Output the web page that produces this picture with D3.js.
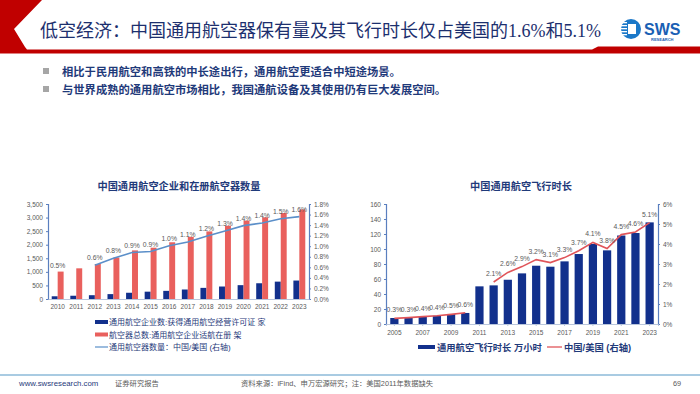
<!DOCTYPE html>
<html>
<head>
<meta charset="utf-8">
<script src="https://cdn.jsdelivr.net/npm/d3@7"></script>
<style>
  body { margin: 0; background: #fff; }
  svg { display: block; }
  text { font-family: "Liberation Sans", "Noto Sans CJK SC", sans-serif; }
</style>
</head>
<body>
<div id="container"></div>
<script>
// left chart data
const years1 = ['2010','2011','2012','2013','2014','2015','2016','2017','2018','2019','2020','2021','2022','2023']
const companies = [100, 120, 140, 180, 230, 270, 300, 350, 410, 460, 510, 580, 640, 680]
const aircraft = [1010, 1130, 1290, 1530, 1790, 1890, 2090, 2290, 2490, 2700, 2890, 3010, 3170, 3300]
const aircraftRatio = [0.5, null, 0.64, 0.77, 0.88, 0.9, 1.01, 1.08, 1.19, 1.29, 1.39, 1.44, 1.52, 1.56]
const leftTicks = [0, 500, 1000, 1500, 2000, 2500, 3000, 3500]
const leftPctTicks = [0, 0.2, 0.4, 0.6, 0.8, 1.0, 1.2, 1.4, 1.6, 1.8]

// right chart data
const years2 = ['2005','2006','2007','2008','2009','2010','2011','2012','2013','2014','2015','2016','2017','2018','2019','2020','2021','2022','2023']
const flightHours = [8, 8.5, 9.7, 11, 13.3, 14.7, 50.2, 51.5, 59, 67.5, 77.7, 76.4, 83.5, 93.3, 106.7, 98.2, 118, 121.3, 135.5]
const hoursRatio = [0.28, 0.32, 0.37, 0.41, 0.48, 0.56, null, 2.1, 2.58, 2.87, 3.22, 3.07, 3.32, 3.66, 4.08, 3.77, 4.47, 4.6, 5.07]
const rightTicks = [0, 20, 40, 60, 80, 100, 120, 140, 160]
const rightPctTicks = [0, 1, 2, 3, 4, 5, 6]

const bullets = [
  '相比于民用航空和高铁的中长途出行，通用航空更适合中短途场景。',
  '与世界成熟的通用航空市场相比，我国通航设备及其使用仍有巨大发展空间。'
]

const w = 700
const h = 394
const navy = '#12308c'
const red = '#e9605d'
const gray = '#595959'

const svg = d3.select('#container')
  .append('svg')
  .attr('width', w)
  .attr('height', h)

// ---------- header ----------
svg.append('path')
  .attr('d', 'M0,0 L42,0 L14,29 L25,47 L0,47 Z')
  .attr('fill', '#c00000')
svg.append('path')
  .attr('d', 'M0,47 L25,47 L27,49.5 L592,49.5 L598,46.5 L700,46.5 L700,53.5 L0,53.5 Z')
  .attr('fill', '#c00000')

svg.append('text')
  .attr('x', 40)
  .attr('y', 37)
  .attr('font-size', 18)
  .attr('fill', '#1c2f6e')
  .style('font-family', '"Liberation Serif", "Noto Sans CJK SC", serif')
  .text('低空经济：中国通用航空器保有量及其飞行时长仅占美国的1.6%和5.1%')

// logo
const logo = svg.append('g').attr('transform', 'translate(631,29)')
logo.append('circle').attr('r', 10).attr('fill', '#1b78c8')
logo.append('rect').attr('x', -3).attr('y', -5).attr('width', 8).attr('height', 10).attr('fill', '#fff')
;[-7, -4, -1, 2, 5].forEach(dy => {
  logo.append('rect').attr('x', -11).attr('y', dy).attr('width', 7).attr('height', 1.3).attr('fill', '#fff')
})
svg.append('text')
  .attr('x', 644).attr('y', 35)
  .attr('font-size', 16).attr('font-weight', 'bold')
  .attr('fill', '#1a5fb4')
  .text('SWS')
svg.append('text')
  .attr('x', 651).attr('y', 41)
  .attr('font-size', 4).attr('font-weight', 'bold')
  .attr('fill', '#1a5fb4')
  .text('RESEARCH')

// bullets
bullets.forEach((b, i) => {
  svg.append('rect')
    .attr('x', 43).attr('y', 68 + i * 18)
    .attr('width', 6).attr('height', 6)
    .attr('fill', '#a6a6a6')
  svg.append('text')
    .attr('x', 62).attr('y', 75.5 + i * 18)
    .attr('font-size', 11.3).attr('font-weight', 'bold')
    .attr('fill', '#1f3a7a')
    .text(b)
})

// ---------- left chart ----------
const x1 = d3.scaleBand().domain(years1).range([48, 309]).paddingInner(0.36).paddingOuter(0.2)
const sub1 = d3.scaleBand().domain(['c', 'a']).range([0, x1.bandwidth()])
const y1 = d3.scaleLinear().domain([0, 3500]).range([299, 204])
const y1r = d3.scaleLinear().domain([0, 1.8]).range([299, 204])

const left = svg.append('g')

left.append('text')
  .attr('x', 179).attr('y', 190)
  .attr('text-anchor', 'middle')
  .attr('font-size', 10.2).attr('font-weight', 'bold')
  .attr('fill', '#1f3a7a')
  .text('中国通用航空企业和在册航空器数量')

left.selectAll('.bar-c')
  .data(years1)
  .enter()
  .append('rect')
  .attr('x', d => x1(d) + sub1('c'))
  .attr('y', (d, i) => y1(companies[i]))
  .attr('width', sub1.bandwidth())
  .attr('height', (d, i) => y1(0) - y1(companies[i]))
  .attr('fill', navy)

left.selectAll('.bar-a')
  .data(years1)
  .enter()
  .append('rect')
  .attr('x', d => x1(d) + sub1('a'))
  .attr('y', (d, i) => y1(aircraft[i]))
  .attr('width', sub1.bandwidth())
  .attr('height', (d, i) => y1(0) - y1(aircraft[i]))
  .attr('fill', red)

const line1 = d3.line()
  .defined(d => d.v !== null)
  .x(d => x1(d.year) + x1.bandwidth() / 2)
  .y(d => y1r(d.v))

left.append('path')
  .datum(years1.map((y, i) => ({ year: y, v: aircraftRatio[i] })))
  .attr('d', line1)
  .attr('fill', 'none')
  .attr('stroke', '#5b8fc9')
  .attr('stroke-width', 1.6)

left.selectAll('.lbl')
  .data(years1.map((y, i) => ({ year: y, v: aircraftRatio[i] })).filter(d => d.v !== null))
  .enter()
  .append('text')
  .attr('x', d => x1(d.year) + x1.bandwidth() / 2)
  .attr('y', d => y1r(d.v) - 5)
  .attr('text-anchor', 'middle')
  .attr('font-size', 6.8)
  .attr('fill', gray)
  .text(d => d.v.toFixed(1) + '%')

const ax1 = left.append('g')
  .attr('transform', 'translate(48,0)')
  .call(d3.axisLeft(y1).tickValues(leftTicks).tickSize(2).tickFormat(d3.format(',')))
const ax1r = left.append('g')
  .attr('transform', 'translate(309,0)')
  .call(d3.axisRight(y1r).tickValues(leftPctTicks).tickSize(2).tickFormat(d => d.toFixed(1) + '%'))
const ax1b = left.append('g')
  .attr('transform', 'translate(0,299)')
  .call(d3.axisBottom(x1).tickSize(0).tickPadding(5))

// legend left
const leg1 = [
  { type: 'bar', color: navy, label: '通用航空企业数:获得通用航空经营许可证 家' },
  { type: 'bar', color: red, label: '航空器总数:通用航空企业适航在册 架' },
  { type: 'line', color: '#5b8fc9', label: '通用航空器数量：中国/美国 (右轴)' }
]
leg1.forEach((d, i) => {
  const yy = 322 + i * 12.5
  if (d.type === 'bar') {
    left.append('rect').attr('x', 95).attr('y', yy - 2).attr('width', 13).attr('height', 4).attr('fill', d.color)
  } else {
    left.append('line').attr('x1', 95).attr('x2', 108).attr('y1', yy).attr('y2', yy)
      .attr('stroke', d.color).attr('stroke-width', 1.2)
  }
  left.append('text')
    .attr('x', 109).attr('y', yy + 3)
    .attr('font-size', 8).attr('fill', '#1f3a7a')
    .text(d.label)
})

// ---------- right chart ----------
const x2 = d3.scaleBand().domain(years2).range([386, 658]).paddingInner(0.42).paddingOuter(0.3)
const y2 = d3.scaleLinear().domain([0, 160]).range([324, 204])
const y2r = d3.scaleLinear().domain([0, 6]).range([324, 204])

const right = svg.append('g')

right.append('text')
  .attr('x', 521).attr('y', 190)
  .attr('text-anchor', 'middle')
  .attr('font-size', 10.2).attr('font-weight', 'bold')
  .attr('fill', '#1f3a7a')
  .text('中国通用航空飞行时长')

right.selectAll('.bar-h')
  .data(years2)
  .enter()
  .append('rect')
  .attr('x', d => x2(d))
  .attr('y', (d, i) => y2(flightHours[i]))
  .attr('width', x2.bandwidth())
  .attr('height', (d, i) => y2(0) - y2(flightHours[i]))
  .attr('fill', navy)

const line2 = d3.line()
  .defined(d => d.v !== null)
  .x(d => x2(d.year) + x2.bandwidth() / 2)
  .y(d => y2r(d.v))

right.append('path')
  .datum(years2.map((y, i) => ({ year: y, v: hoursRatio[i] })))
  .attr('d', line2)
  .attr('fill', 'none')
  .attr('stroke', '#e0555a')
  .attr('stroke-width', 1.6)

right.selectAll('.lbl')
  .data(years2.map((y, i) => ({ year: y, v: hoursRatio[i] })).filter(d => d.v !== null))
  .enter()
  .append('text')
  .attr('x', d => x2(d.year) + x2.bandwidth() / 2)
  .attr('y', d => y2r(d.v) - 6)
  .attr('text-anchor', 'middle')
  .attr('font-size', 6.8)
  .attr('fill', gray)
  .text(d => d.v.toFixed(1) + '%')

const ax2 = right.append('g')
  .attr('transform', 'translate(386,0)')
  .call(d3.axisLeft(y2).tickValues(rightTicks).tickSize(2))
const ax2r = right.append('g')
  .attr('transform', 'translate(658,0)')
  .call(d3.axisRight(y2r).tickValues(rightPctTicks).tickSize(2).tickFormat(d => d + '%'))
const ax2b = right.append('g')
  .attr('transform', 'translate(0,324)')
  .call(d3.axisBottom(x2).tickSize(2).tickPadding(4)
    .tickValues(years2.filter((d, i) => i % 2 === 0)))

// legend right
right.append('rect').attr('x', 418).attr('y', 345).attr('width', 17).attr('height', 4).attr('fill', navy)
right.append('text').attr('x', 437).attr('y', 350.5)
  .attr('font-size', 9.3).attr('font-weight', 'bold').attr('fill', '#1f3a7a')
  .text('通用航空飞行时长 万小时')
right.append('line').attr('x1', 547).attr('x2', 562).attr('y1', 347).attr('y2', 347)
  .attr('stroke', '#e0555a').attr('stroke-width', 1.3)
right.append('text').attr('x', 564).attr('y', 350.5)
  .attr('font-size', 9.3).attr('font-weight', 'bold').attr('fill', '#1f3a7a')
  .text('中国/美国 (右轴)')

// axis styling
;[ax1, ax1r, ax2, ax2r].forEach(a => {
  a.select('.domain').attr('stroke', '#5a7fbf').attr('stroke-width', 1.2)
  a.selectAll('.tick line').attr('stroke', '#5a7fbf')
  a.selectAll('text').attr('font-size', 6.5).attr('fill', gray)
})
;[ax1b, ax2b].forEach(a => {
  a.select('.domain').attr('stroke', '#b9c6dc')
  a.selectAll('.tick line').attr('stroke', '#b9c6dc')
  a.selectAll('text').attr('font-size', 6.5).attr('fill', gray)
})

// ---------- footer ----------
svg.append('line')
  .attr('x1', 0).attr('x2', 700).attr('y1', 375).attr('y2', 375)
  .attr('stroke', '#8dbad9').attr('stroke-width', 1.5)
svg.append('text').attr('x', 19).attr('y', 386)
  .attr('font-size', 7.8).attr('fill', '#1f3a7a').text('www.swsresearch.com')
svg.append('text').attr('x', 115).attr('y', 386)
  .attr('font-size', 7.3).attr('fill', gray).text('证券研究报告')
svg.append('text').attr('x', 241).attr('y', 386)
  .attr('font-size', 7.3).attr('fill', gray).text('资料来源：iFind、申万宏源研究；注：美国2011年数据缺失')
svg.append('text').attr('x', 673).attr('y', 386)
  .attr('font-size', 7.3).attr('fill', gray).text('69')
</script>
</body>
</html>
